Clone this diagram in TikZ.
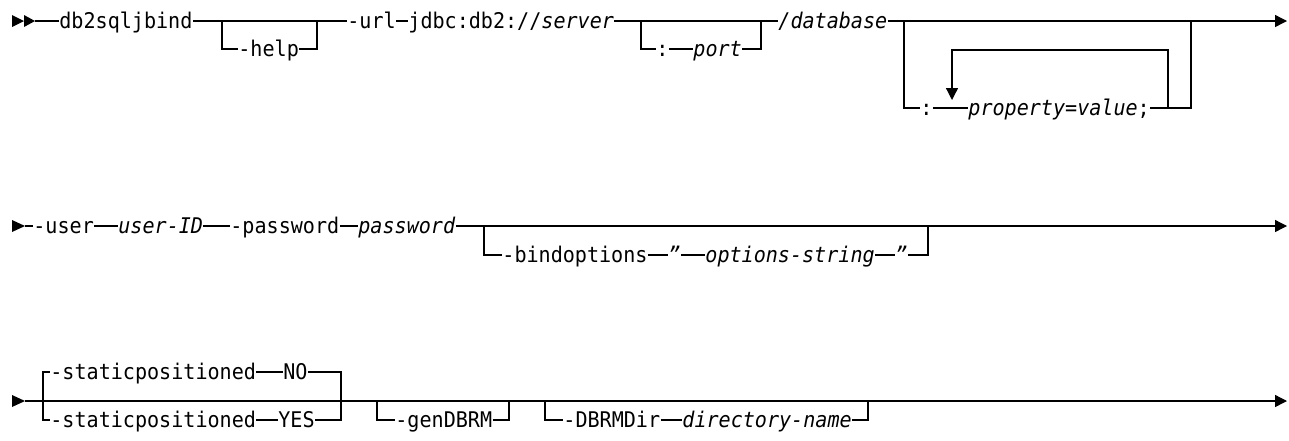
\documentclass[tikz,border=0pt]{standalone}
\usepackage{fontspec}
\setmainfont{DejaVu Sans Mono}[FakeStretch=0.93]
\usetikzlibrary{arrows.meta}

\begin{document}
\begin{tikzpicture}[x=0.5pt,y=-0.5pt,
    kw/.style={inner sep=0pt, text height=0.72em, text depth=0pt, anchor=west,
      font=\fontsize{10.8}{13}\selectfont},
    var/.style={kw, font=\fontsize{10.8}{13}\selectfont\itshape},
    rail/.style={line width=0.65pt},
    endarrow/.style={-{Triangle[length=6pt,width=6pt]}}]
      \useasboundingbox (0,0) rectangle (1289,440);

      % first line
      \fill (12,15) -- (24,21) -- (12,27) -- cycle;
      \fill (24,15) -- (35,21) -- (24,27) -- cycle;
      \coordinate (start1) at (35,21);

      \node (db2) at (59,21) [kw] {db2sqljbind};
      \coordinate (hl) at (222,21);
      \coordinate (hr) at (317,21);
      \node (help) at (238,49) [kw] {-help};
      \node (url) at (347,21) [kw] {-url};
      \node (jdbc) at (408,21) [kw] {jdbc:db2://\textit{server}};
      \coordinate (pl) at (641,21);
      \coordinate (pr) at (761,21);
      \node (colon1) at (656,49) [kw] {:};
      \node (port) at (693,49) [var] {port};
      \node (db) at (778,21) [var] {/database};
      \coordinate (ql) at (904,21);
      \coordinate (qr) at (1191,21);
      \node (colon2) at (920,108) [kw] {:};
      \node (prop) at (968,108) [kw] {\textit{property}=\textit{value};};
      \coordinate (lpr) at (1168,108);
      \coordinate (lptr) at (1168,50);
      \coordinate (lptl) at (952,50);
      \coordinate (lpend) at (952,100);
      \coordinate (end1) at (1287,21);

      \draw[rail] (start1) -- (db2.west);
      \draw[rail] (db2.east) -- (hl) -- (hr) -- (url.west);
      \draw[rail] (hl) |- (help.west);
      \draw[rail] (help.east) -| (hr);
      \draw[rail] (url.east) -- (jdbc.west);
      \draw[rail] (jdbc.east) -- (pl) -- (pr) -- (db.west);
      \draw[rail] (pl) |- (colon1.west);
      \draw[rail] (colon1.east) -- (port.west);
      \draw[rail] (port.east) -| (pr);
      \draw[rail,endarrow] (db.east) -- (ql) -- (qr) -- (end1);
      \draw[rail] (ql) |- (colon2.west);
      \draw[rail] (colon2.east) -- (prop.west);
      \draw[rail] (prop.east) -| (qr);
      \draw[rail,endarrow] (lpr) -- (lptr) -- (lptl) -- (lpend);

      % second line
      \fill (12,220) -- (25,226) -- (12,232) -- cycle;
      \coordinate (start2) at (25,226);

      \node (user) at (33,226) [kw] {-user};
      \node (userid) at (118,226) [var] {user-ID};
      \node (pw) at (230,226) [kw] {-password};
      \node (pwv) at (358,226) [var] {password};
      \coordinate (bl) at (484,226);
      \coordinate (br) at (928,226);
      \node (bind) at (502,255) [kw] {-bindoptions};
      \node (quote1) at (668,255) [var] {\char"22};
      \node (opts) at (705,255) [var] {options-string};
      \node (quote2) at (895,255) [var] {\char"22};
      \coordinate (end2) at (1287,226);

      \draw[rail] (start2) -- (user.west);
      \draw[rail] (user.east) -- (userid.west);
      \draw[rail] (userid.east) -- (pw.west);
      \draw[rail] (pw.east) -- (pwv.west);
      \draw[rail,endarrow] (pwv.east) -- (bl) -- (br) -- (end2);
      \draw[rail] (bl) |- (bind.west);
      \draw[rail] (bind.east) -- (quote1.west);
      \draw[rail] (quote1.east) -- (opts.west);
      \draw[rail] (opts.east) -- (quote2.west);
      \draw[rail] (quote2.east) -| (br);

      % third line
      \fill (12,395) -- (25,401) -- (12,407) -- cycle;
      \coordinate (start3) at (25,401);

      \coordinate (sl) at (43,401);
      \coordinate (sr) at (341,401);
      \node (spno) at (50,372) [kw] {-staticpositioned};
      \node (no) at (283,372) [kw] {NO};
      \node (spyes) at (50,420) [kw] {-staticpositioned};
      \node (yes) at (278,420) [kw] {YES};
      \coordinate (gl) at (377,401);
      \coordinate (gr) at (509,401);
      \node (gen) at (395,420) [kw] {-genDBRM};
      \coordinate (dl) at (545,401);
      \coordinate (dr) at (868,401);
      \node (dir) at (563,420) [kw] {-DBRMDir};
      \node (dirname) at (682,420) [var] {directory-name};
      \coordinate (end3) at (1287,401);

      \draw[rail,endarrow] (start3) -- (sl) -- (sr) -- (gl) -- (gr) -- (dl) -- (dr) -- (end3);
      \draw[rail] (sl) |- (spno.west);
      \draw[rail] (spno.east) -- (no.west);
      \draw[rail] (no.east) -| (sr);
      \draw[rail] (sl) |- (spyes.west);
      \draw[rail] (spyes.east) -- (yes.west);
      \draw[rail] (yes.east) -| (sr);
      \draw[rail] (gl) |- (gen.west);
      \draw[rail] (gen.east) -| (gr);
      \draw[rail] (dl) |- (dir.west);
      \draw[rail] (dir.east) -- (dirname.west);
      \draw[rail] (dirname.east) -| (dr);
\end{tikzpicture}
\end{document}
